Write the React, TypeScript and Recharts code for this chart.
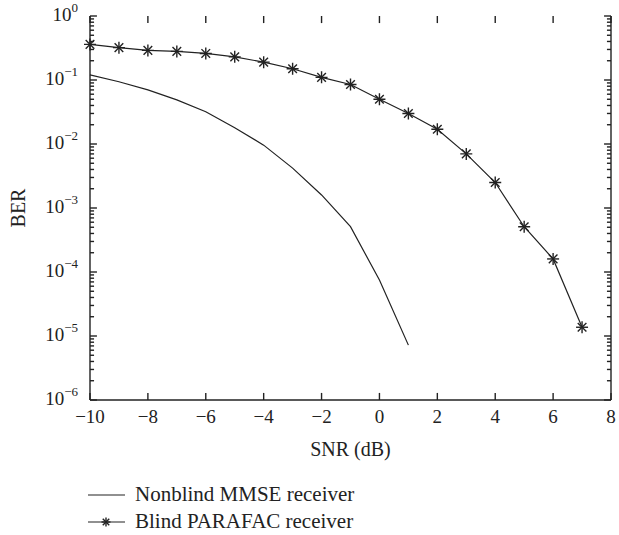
import React from 'react';
import { LineChart, Line, XAxis, YAxis, ReferenceLine } from 'recharts';

// ============================================================================
// DATA
// ============================================================================
const snrDb = [-10, -9, -8, -7, -6, -5, -4, -3, -2, -1, 0, 1, 2, 3, 4, 5, 6, 7];
const mmseBer = [0.12, 0.094, 0.07, 0.049, 0.032, 0.018, 0.0096, 0.0042, 0.0016, 5.1e-4, 7.5e-5, 7.2e-6];
const parafacBer = [
  0.36, 0.32, 0.29, 0.28, 0.26, 0.23, 0.19, 0.15, 0.11, 0.085, 0.05, 0.03, 0.017, 0.007, 0.0025,
  5.1e-4, 1.6e-4, 1.37e-5,
];
const xTicks = [-10, -8, -6, -4, -2, 0, 2, 4, 6, 8];
const decadeExps = [-6, -5, -4, -3, -2, -1, 0];
const seriesNames = ['Nonblind MMSE receiver', 'Blind PARAFAC receiver'];

const X_MIN = -10;
const X_MAX = 8;
const Y_MIN = 1e-6;
const Y_MAX = 1;

const data = snrDb.map((snr, i) => ({
  snr,
  mmse: i < mmseBer.length ? mmseBer[i] : undefined,
  parafac: parafacBer[i],
}));

// major + minor ticks for the log axis
const yTicks: number[] = [];
decadeExps.forEach((e) => {
  yTicks.push(Math.pow(10, e));
  if (e < 0) for (let k = 2; k <= 9; k++) yTicks.push(k * Math.pow(10, e));
});

const FONT = '"Liberation Serif", "DejaVu Serif", serif';
const AXIS = '#222';
const INK = '#222';

// inward tick lengths, in data units (about 7px major / 4px minor)
const X_TICK_MAJOR = 0.24;
const X_TICK_MINOR = 0.14;
const Y_TICK_FACTOR = 1.29;

// ============================================================================
// TICKS / MARKERS
// ============================================================================
const isMajor = (v: number) => Math.abs(Math.log10(v) - Math.round(Math.log10(v))) < 1e-6;

const fmtExp = (e: number) => (e < 0 ? '\u2212' + Math.abs(e) : String(e));

const LeftTick: React.FC<any> = ({ x, y, payload }) => {
  const v = payload.value;
  if (!isMajor(v)) return <g />;
  return (
    <text x={x - 12} y={y + 5} textAnchor="end" fontFamily={FONT} fontSize={19} fill={INK}>
      10
      <tspan fontSize={13} dy={-9}>
        {fmtExp(Math.round(Math.log10(v)))}
      </tspan>
    </text>
  );
};

const BottomTick: React.FC<any> = ({ x, y, payload }) => (
  <text x={x} y={y + 23} textAnchor="middle" fontFamily={FONT} fontSize={19} fill={INK}>
    {payload.value < 0 ? '\u2212' + Math.abs(payload.value) : payload.value}
  </text>
);

const Star: React.FC<any> = ({ cx, cy, size }) => {
  if (cx == null || cy == null) return null;
  const r = size ?? 6;
  const d = r * 0.72;
  return (
    <g stroke={INK} strokeWidth={1.4}>
      <line x1={cx - r} x2={cx + r} y1={cy} y2={cy} />
      <line x1={cx} x2={cx} y1={cy - r} y2={cy + r} />
      <line x1={cx - d} x2={cx + d} y1={cy - d} y2={cy + d} />
      <line x1={cx - d} x2={cx + d} y1={cy + d} y2={cy - d} />
    </g>
  );
};

const LegendBox: React.FC = () => (
  <div style={{ position: 'absolute', left: 87, top: 481, fontFamily: FONT, fontSize: 21, color: INK, lineHeight: '27px' }}>
    {seriesNames.map((name, i) => (
      <div key={name} style={{ display: 'flex', alignItems: 'center', height: 27 }}>
        <svg width={40} height={14} style={{ flex: 'none' }}>
          <line x1={1} x2={38} y1={7} y2={7} stroke={INK} strokeWidth={1.2} />
          {i === 1 && <Star cx={19} cy={7} size={4.5} />}
        </svg>
        <span style={{ marginLeft: 8 }}>{name}</span>
      </div>
    ))}
  </div>
);

// tick marks pointing into the plot box, drawn through the chart scales
const tickSegments = () => {
  const segs: { key: string; seg: { x: number; y: number }[] }[] = [];
  xTicks.forEach((t) => {
    segs.push({ key: `xb${t}`, seg: [{ x: t, y: Y_MIN }, { x: t, y: Y_MIN * Y_TICK_FACTOR }] });
    segs.push({ key: `xt${t}`, seg: [{ x: t, y: Y_MAX }, { x: t, y: Y_MAX / Y_TICK_FACTOR }] });
  });
  yTicks.forEach((t) => {
    const len = isMajor(t) ? X_TICK_MAJOR : X_TICK_MINOR;
    segs.push({ key: `yl${t}`, seg: [{ x: X_MIN, y: t }, { x: X_MIN + len, y: t }] });
    segs.push({ key: `yr${t}`, seg: [{ x: X_MAX, y: t }, { x: X_MAX - len, y: t }] });
  });
  return segs;
};

// ============================================================================
// CHART
// ============================================================================
const App: React.FC = () => (
  <div style={{ position: 'absolute', left: 0, top: 0, width: 619, height: 535, background: '#fff' }}>
    <LineChart width={619} height={535} data={data} margin={{ top: 16, right: 4, left: 0, bottom: 0 }}>
      <XAxis
        xAxisId="b"
        dataKey="snr"
        type="number"
        domain={[X_MIN, X_MAX]}
        ticks={xTicks}
        interval={0}
        height={135}
        tickSize={0}
        tickMargin={0}
        tickLine={false}
        axisLine={{ stroke: AXIS, strokeWidth: 1.4 }}
        tick={<BottomTick />}
        label={(props: any) => {
          const vb = props.viewBox;
          return (
            <text x={vb.x + vb.width / 2} y={vb.y + 56} textAnchor="middle" fontFamily={FONT} fontSize={20} fill={INK}>
              SNR (dB)
            </text>
          );
        }}
      />
      <XAxis
        xAxisId="t"
        orientation="top"
        dataKey="snr"
        type="number"
        domain={[X_MIN, X_MAX]}
        ticks={xTicks}
        height={0}
        tick={false}
        tickLine={false}
        axisLine={{ stroke: AXIS, strokeWidth: 1.4 }}
      />
      <YAxis
        yAxisId="l"
        scale="log"
        type="number"
        domain={[Y_MIN, Y_MAX]}
        allowDataOverflow
        ticks={yTicks}
        interval={0}
        width={90}
        tickSize={0}
        tickMargin={0}
        tickLine={false}
        axisLine={{ stroke: AXIS, strokeWidth: 1.4 }}
        tick={<LeftTick />}
        label={(props: any) => {
          const vb = props.viewBox;
          const cy = vb.y + vb.height / 2;
          return (
            <text x={25} y={cy} transform={`rotate(-90 25 ${cy})`} textAnchor="middle" fontFamily={FONT} fontSize={20} fill={INK}>
              BER
            </text>
          );
        }}
      />
      <YAxis
        yAxisId="r"
        orientation="right"
        scale="log"
        type="number"
        domain={[Y_MIN, Y_MAX]}
        allowDataOverflow
        width={4}
        tick={false}
        tickLine={false}
        axisLine={{ stroke: AXIS, strokeWidth: 1.4 }}
      />
      {tickSegments().map((s) => (
        <ReferenceLine
          key={s.key}
          xAxisId="b"
          yAxisId="l"
          segment={s.seg}
          stroke={AXIS}
          strokeWidth={1.4}
          ifOverflow="visible"
        />
      ))}
      <Line
        xAxisId="b"
        yAxisId="l"
        dataKey="mmse"
        name={seriesNames[0]}
        stroke={INK}
        strokeWidth={1.2}
        dot={false}
        isAnimationActive={false}
      />
      <Line
        xAxisId="b"
        yAxisId="l"
        dataKey="parafac"
        name={seriesNames[1]}
        stroke={INK}
        strokeWidth={1.2}
        dot={(p: any) => <Star key={p.index} cx={p.cx} cy={p.cy} size={6} />}
        isAnimationActive={false}
      />
    </LineChart>
    <LegendBox />
  </div>
);

export default App;
